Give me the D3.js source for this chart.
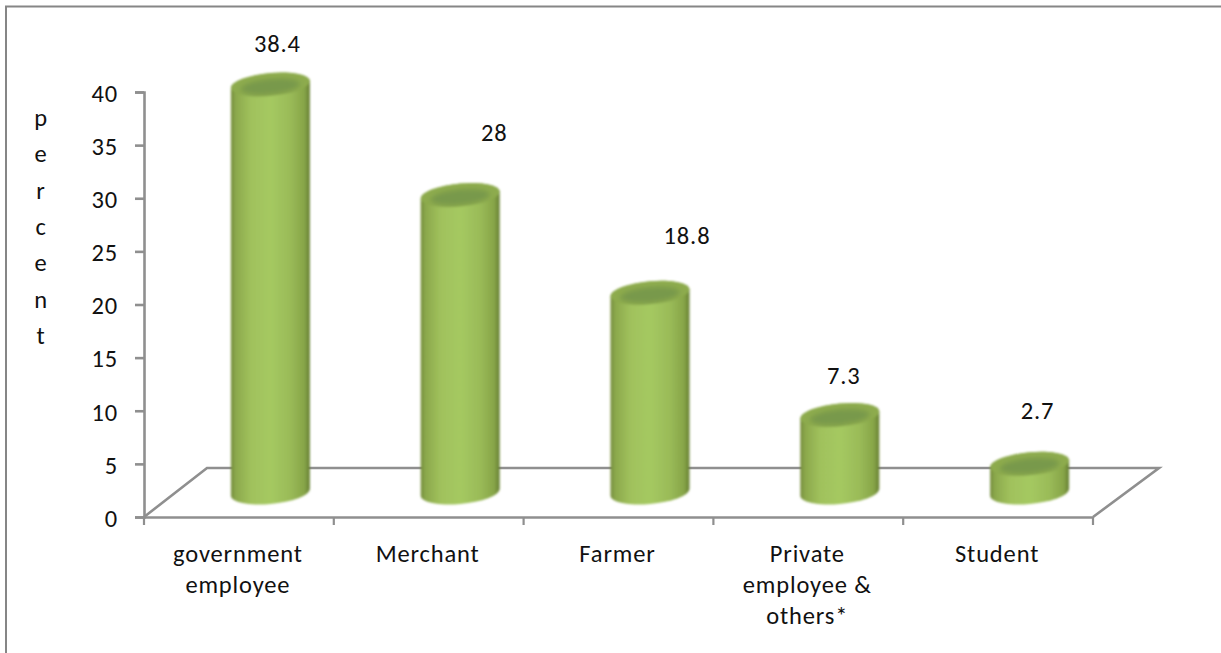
<!DOCTYPE html>
<html>
<head>
<meta charset="utf-8">
<script src="https://cdnjs.cloudflare.com/ajax/libs/d3/7.8.5/d3.min.js"></script>
<style>
html,body{margin:0;padding:0;background:#fff}
svg{display:block}
text{font-family:Carlito,Lato,"Open Sans",sans-serif;font-size:24.5px;letter-spacing:0.85px;fill:#111}
</style>
</head>
<body>
<svg id="chart" width="1221" height="653"></svg>
<script>
// Occupation breakdown, in percent
const categories = ["government employee", "Merchant", "Farmer", "Private employee & others*", "Student"];
const percents = [38.4, 28, 18.8, 7.3, 2.7];
const yTicks = [0, 5, 10, 15, 20, 25, 30, 35, 40];
const axisTitle = "percent";
const categoryLines = [["government", "employee"], ["Merchant"], ["Farmer"], ["Private", "employee &", "others*"], ["Student"]];

const svg = d3.select("#chart");
const defs = svg.append("defs");

// Frame: only the top and left edges are ruled
svg.append("path").attr("d", "M6,653V6.5H1221")
  .attr("fill", "none").attr("stroke", "#868686").attr("stroke-width", 2);

const y = d3.scaleLinear().domain([0, 40]).range([517, 92]);
const x = d3.scaleBand().domain(categories).range([144, 1093]);

// Pseudo-3D floor depth
const depthX = 63, depthY = 49;
const axisColor = "#8f8f8f";

const floor = svg.append("g").attr("fill", "none").attr("stroke", axisColor).attr("stroke-width", 2.6);
floor.append("path").attr("d", d3.line()([
  [x.range()[0], y(0)],
  [x.range()[0] + depthX, y(0) - depthY],
  [x.range()[1] + depthX + 3, y(0) - depthY],
  [x.range()[1], y(0)]
]));

// Axes
const yAxis = d3.axisLeft(y).tickValues(yTicks).tickSize(9).tickPadding(17);
const gy = svg.append("g").attr("transform", "translate(144,0)").call(yAxis);
gy.selectAll("text").attr("dy", "0.38em");
const xAxis = d3.axisBottom(x).tickValues([]).tickSizeOuter(0);
const gx = svg.append("g").attr("transform", `translate(0,${y(0)})`).call(xAxis);
[gy, gx].forEach(g => {
  g.attr("font-family", null).attr("font-size", null);
  g.selectAll("path,line").attr("stroke", axisColor).attr("stroke-width", 2.6);
});
gy.selectAll("text").attr("fill", "#111");

// Category boundary ticks
const boundaries = categories.map(c => x(c)).concat(x.range()[1]);
svg.append("g").selectAll("line").data(boundaries).join("line")
  .attr("x1", d => d).attr("x2", d => d)
  .attr("y1", y(0)).attr("y2", y(0) + 8)
  .attr("stroke", axisColor).attr("stroke-width", 2.2);

// Cylinder shading
const bodyGrad = defs.append("linearGradient").attr("id", "body");
[[0, "#748c3b"], [0.06, "#8ba84c"], [0.25, "#a0c15c"], [0.5, "#a5c961"], [0.75, "#9abb58"], [0.93, "#87a548"], [1, "#667f33"]]
  .forEach(([o, c]) => bodyGrad.append("stop").attr("offset", o).attr("stop-color", c));
const softEdge = defs.append("filter").attr("id", "soft");
softEdge.append("feGaussianBlur").attr("stdDeviation", 0.9);
const softInner = defs.append("filter").attr("id", "softInner");
softInner.append("feGaussianBlur").attr("stdDeviation", 2.2);

const radiusX = 39.5, radiusY = 11.5, tilt = -5;
const barBase = y(0) - depthY / 2;
const barCentre = c => x(c) + x.bandwidth() / 2 + depthX / 2;

// Outline of one cylinder: side walls plus the lower half of the base ellipse
function cylinderPath(h) {
  return `M${-radiusX},${-h}L${-radiusX},0A${radiusX},${radiusY} 0 0 0 ${radiusX},0L${radiusX},${-h}` +
    `A${radiusX},${radiusY} 0 0 0 ${-radiusX},${-h}Z`;
}

const bars = svg.append("g").selectAll("g").data(categories).join("g")
  .attr("transform", c => `translate(${barCentre(c)},${barBase})`)
  .attr("filter", "url(#soft)");

bars.append("path")
  .attr("d", (c, i) => cylinderPath(y(0) - y(percents[i])))
  .attr("transform", `skewY(${tilt})`)
  .attr("fill", "url(#body)");

// Cap: pale rim with a darker, blurred recess
bars.append("ellipse")
  .attr("cx", 0).attr("cy", (c, i) => -(y(0) - y(percents[i])))
  .attr("rx", radiusX).attr("ry", radiusY)
  .attr("transform", `skewY(${tilt})`)
  .attr("fill", "#8dab4d");

bars.append("ellipse")
  .attr("cx", 0).attr("cy", (c, i) => -(y(0) - y(percents[i])) + 2)
  .attr("rx", radiusX - 10).attr("ry", radiusY - 4)
  .attr("transform", `skewY(${tilt})`)
  .attr("fill", "#78994c")
  .attr("filter", "url(#softInner)");

// Value labels sit by hand around their columns
const labelNudgeX = [7, 34, 37, 4, 8];
const labelNudgeY = [-33, -54, -49, -31, -45];
svg.append("g").selectAll("text").data(categories).join("text")
  .attr("x", (c, i) => barCentre(c) + labelNudgeX[i])
  .attr("y", (c, i) => barBase - (y(0) - y(percents[i])) + labelNudgeY[i])
  .attr("text-anchor", "middle")
  .text((c, i) => String(percents[i]));

// Category labels, wrapped by hand
const catLabels = svg.append("g").selectAll("text").data(categories).join("text")
  .attr("text-anchor", "middle");
catLabels.each(function (c, i) {
  d3.select(this).selectAll("tspan").data(categoryLines[i]).join("tspan")
    .attr("x", x(c) + x.bandwidth() / 2 - 1)
    .attr("y", (d, j) => 562 + j * 31)
    .text(d => d);
});

// Vertical axis title, one letter per line
svg.append("g").selectAll("text").data(axisTitle.split("")).join("text")
  .attr("x", 41).attr("y", (d, i) => 126 + i * 36.3)
  .attr("text-anchor", "middle")
  .text(d => d);
</script>
</body>
</html>
